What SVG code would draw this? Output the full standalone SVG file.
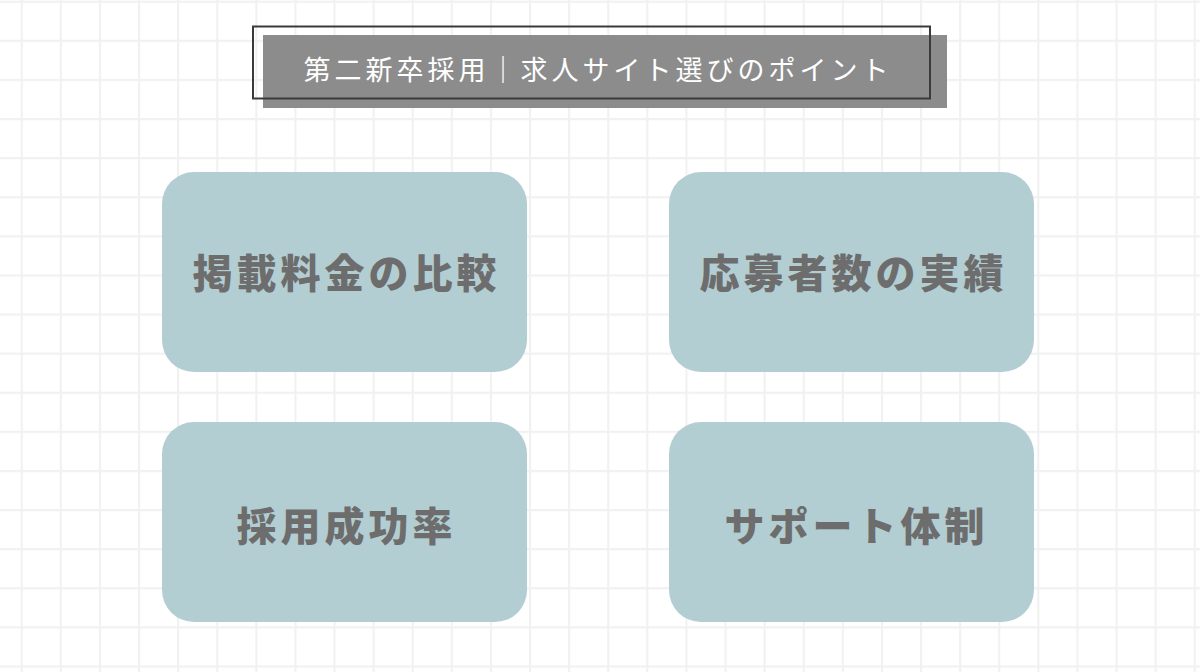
<svg xmlns="http://www.w3.org/2000/svg" width="1200" height="672" viewBox="0 0 1200 672">
  <defs>
    <pattern id="grid" x="20.7" y="0.7" width="39.1" height="39.1" patternUnits="userSpaceOnUse">
      <path d="M1 0V39.1M0 1H39.1" stroke="#f1f1f1" stroke-width="2.2" fill="none"/>
    </pattern>
    <style>
      .box { fill: #afcbd1; fill-opacity: 0.95; }
      .lbl { font-family: "Noto Sans CJK JP", "Noto Sans", sans-serif; font-size: 40px; font-weight: 900; fill: #6d6d6d; text-anchor: middle; letter-spacing: 4px; }
      .ttl { font-family: "Noto Sans CJK JP", "Noto Sans", sans-serif; font-size: 27px; font-weight: 400; fill: #ffffff; text-anchor: middle; letter-spacing: 4px; }
    </style>
  </defs>
  <rect width="1200" height="672" fill="#ffffff"/>
  <rect width="1200" height="672" fill="url(#grid)"/>

  <g id="title">
    <rect x="263" y="35" width="684" height="73" fill="#8c8c8c"/>
    <rect x="253" y="26.5" width="677" height="72" fill="none" stroke="#3a3a3a" stroke-width="2"/>
    <text class="ttl" x="598" y="80">第二新卒採用｜求人サイト選びのポイント</text>
  </g>

  <g id="node-fee">
    <rect class="box" x="162" y="172" width="365" height="200" rx="32"/>
    <text class="lbl" x="346.5" y="288">掲載料金の比較</text>
  </g>
  <g id="node-applicants">
    <rect class="box" x="669" y="172" width="365" height="200" rx="32"/>
    <text class="lbl" x="853.5" y="288">応募者数の実績</text>
  </g>
  <g id="node-success">
    <rect class="box" x="162" y="422" width="365" height="200" rx="32"/>
    <text class="lbl" x="346.5" y="541">採用成功率</text>
  </g>
  <g id="node-support">
    <rect class="box" x="669" y="422" width="365" height="200" rx="32"/>
    <text class="lbl" x="856.5" y="541">サポート体制</text>
  </g>
  <g id="connectors"></g>
</svg>
